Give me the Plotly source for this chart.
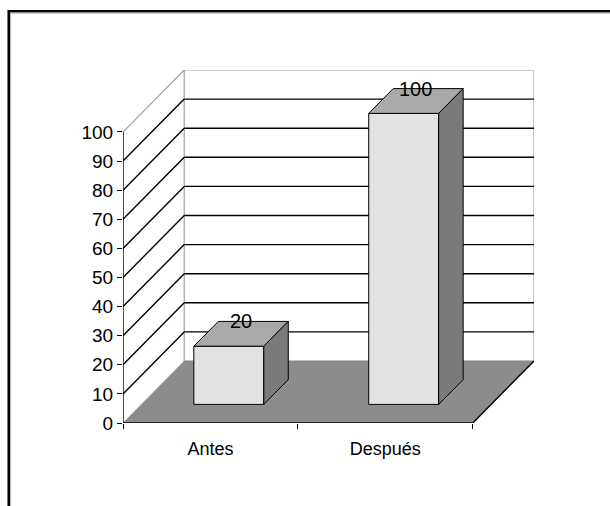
import plotly.graph_objects as go

# Chart data
categories = ["Antes", "Después"]
values = [20, 100]
y_ticks = list(range(0, 101, 10))

# Oblique 3D projection: depth shift in axis units (category units, value units)
DX = 0.35
DY = 21.3
BAR_W = 0.4          # bar width as fraction of a category slot
D_FRONT, D_BACK = 0.3, 0.7   # bar depth span as fraction of full depth
N = len(categories)

FONT = "Liberation Sans, Arial, sans-serif"

# plot-area geometry in pixels (used for the outer frame in paper units)
L, R, T, B = 123, 76, 70, 83
W, H = 610, 506
PW, PH = W - L - R, H - T - B

fig = go.Figure()


def poly(xs, ys, fill, line_color="black", line_width=1.0):
    fig.add_trace(go.Scatter(
        x=xs + [xs[0]], y=ys + [ys[0]], mode="lines", fill="toself",
        fillcolor=fill, line=dict(color=line_color, width=line_width),
        hoverinfo="skip", showlegend=False, cliponaxis=False))


def seg(x0, y0, x1, y1, color="black", width=1.4):
    fig.add_trace(go.Scatter(
        x=[x0, x1], y=[y0, y1], mode="lines",
        line=dict(color=color, width=width),
        hoverinfo="skip", showlegend=False, cliponaxis=False))


top = y_ticks[-1]

# back wall
poly([DX, N + DX, N + DX, DX], [DY, DY, top + DY, top + DY], "white",
     line_color="#a0a0a0", line_width=1.2)

# gridlines on the back wall and the left side wall
for v in y_ticks[1:-1]:
    seg(DX, v + DY, N + DX, v + DY)
    seg(0, v, DX, v + DY)
# top edge of the side wall
seg(0, top, DX, top + DY, color="#a0a0a0", width=1.2)

# floor
poly([0, N, N + DX, DX], [0, 0, DY, DY], "#8c8c8c", line_color="#8c8c8c", line_width=0.5)
seg(N, 0, N + DX, DY, width=1.4)

# 3D bars
for i, v in enumerate(values):
    xl = i + 0.5 - BAR_W / 2
    xr = i + 0.5 + BAR_W / 2
    fx, fy = D_FRONT * DX, D_FRONT * DY
    bx, by = D_BACK * DX, D_BACK * DY
    # front face
    poly([xl + fx, xr + fx, xr + fx, xl + fx], [fy, fy, v + fy, v + fy], "#e2e2e2")
    # top face
    poly([xl + fx, xr + fx, xr + bx, xl + bx], [v + fy, v + fy, v + by, v + by], "#a9a9a9")
    # right side face
    poly([xr + fx, xr + bx, xr + bx, xr + fx], [fy, by, v + by, v + fy], "#7a7a7a")
    # value label
    fig.add_annotation(x=i + 0.5 + 0.5 * DX, y=v + D_BACK * DY, text=str(v),
                       showarrow=False, xanchor="center", yanchor="middle",
                       font=dict(family=FONT, size=20, color="black"))

# front axis lines
seg(0, 0, 0, top, width=1.4)
seg(0, 0, N, 0, width=1.4)

fig.update_layout(
    width=W, height=H, autosize=False,
    margin=dict(l=L, r=R, t=T, b=B, pad=0),
    paper_bgcolor="white", plot_bgcolor="white",
    showlegend=False,
    xaxis=dict(range=[0, N + DX], showgrid=False, zeroline=False, showline=False,
               tickmode="array", tickvals=[i + 0.5 for i in range(N)], ticktext=categories,
               ticks="", ticklabelstandoff=13,
               tickfont=dict(family=FONT, size=18, color="black"),
               minor=dict(tickmode="array", tickvals=list(range(N + 1)), ticks="outside",
                          ticklen=5, tickcolor="black", tickwidth=1.2, showgrid=False),
               fixedrange=True),
    yaxis=dict(range=[0, top + DY], showgrid=False, zeroline=False, showline=False,
               tickmode="array", tickvals=y_ticks, ticks="outside", ticklen=5,
               tickcolor="black", tickwidth=1.2,
               tickfont=dict(family=FONT, size=19, color="black"),
               fixedrange=True),
)


def px_to_paper(px, py):
    return (px - L) / PW, (H - B - py) / PH


# chart frame (left and top edges run past the page bounds)
for (fx0, fy0), col, wd in [((8.7, 11.3), "black", 2.5), ((10.6, 13.2), "#b0b0b0", 1.0)]:
    a = px_to_paper(fx0, H + 10)
    b = px_to_paper(fx0, fy0)
    c = px_to_paper(W + 10, fy0)
    fig.add_shape(type="path", xref="paper", yref="paper",
                  path="M {:.5f},{:.5f} L {:.5f},{:.5f} L {:.5f},{:.5f}".format(*a, *b, *c),
                  line=dict(color=col, width=wd))

fig.write_html("out.html")
